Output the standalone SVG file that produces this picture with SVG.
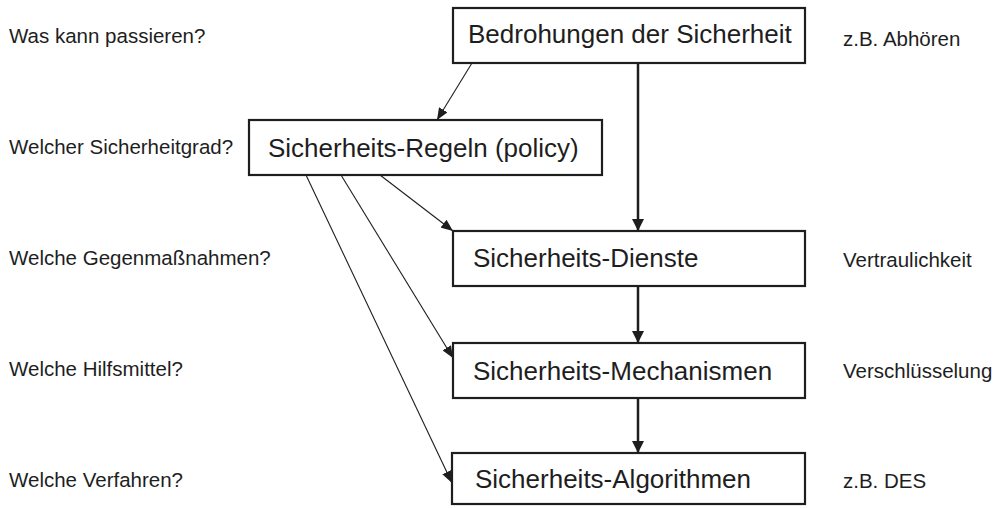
<svg xmlns="http://www.w3.org/2000/svg" width="1000" height="508" viewBox="0 0 1000 508">
  <style>
    .box { fill: #ffffff; stroke: #1e1e1e; stroke-width: 2.2; }
    .btxt { font-family: "Liberation Sans", Arial, sans-serif; font-size: 26px; fill: #1e1e1e; }
    .side { font-family: "Liberation Sans", Arial, sans-serif; font-size: 20.5px; fill: #1e1e1e; }
    .thick { stroke: #1e1e1e; stroke-width: 2.5; fill: none; }
    .thin { stroke: #1e1e1e; stroke-width: 1.1; fill: none; }
  </style>
  <defs>
    <marker id="ah" viewBox="0 0 12 12" refX="12" refY="6" markerWidth="12" markerHeight="12" markerUnits="userSpaceOnUse" orient="auto">
      <path d="M0,0 L12,6 L0,12 z" fill="#1e1e1e"/>
    </marker>
    <marker id="ahs" viewBox="0 0 12 10" refX="12" refY="5" markerWidth="12" markerHeight="10" markerUnits="userSpaceOnUse" orient="auto">
      <path d="M0,0 L12,5 L0,10 z" fill="#1e1e1e"/>
    </marker>
  </defs>
  <rect width="1000" height="508" fill="#ffffff"/>

  <g id="questions">
    <text class="side" x="9" y="43">Was kann passieren?</text>
    <text class="side" x="9" y="154">Welcher Sicherheitgrad?</text>
    <text class="side" x="9" y="265">Welche Gegenmaßnahmen?</text>
    <text class="side" x="9" y="376">Welche Hilfsmittel?</text>
    <text class="side" x="9" y="487">Welche Verfahren?</text>
  </g>

  <g id="examples">
    <text class="side" x="843" y="46">z.B. Abhören</text>
    <text class="side" x="843" y="267">Vertraulichkeit</text>
    <text class="side" x="843" y="378">Verschlüsselung</text>
    <text class="side" x="843" y="488">z.B. DES</text>
  </g>

  <g id="connectors">
    <line class="thick" x1="638" y1="63" x2="638" y2="231" marker-end="url(#ah)"/>
    <line class="thick" x1="638" y1="286" x2="638" y2="343" marker-end="url(#ah)"/>
    <line class="thick" x1="638" y1="398" x2="638" y2="453" marker-end="url(#ah)"/>
    <line class="thin" x1="472" y1="63" x2="437" y2="120" marker-end="url(#ahs)"/>
    <line class="thin" x1="380" y1="175" x2="453" y2="231" marker-end="url(#ahs)"/>
    <line class="thin" x1="341" y1="175" x2="453" y2="358" marker-end="url(#ahs)"/>
    <line class="thin" x1="306" y1="175" x2="452" y2="483" marker-end="url(#ahs)"/>
  </g>

  <g id="bedrohungen">
    <rect class="box" x="453" y="8" width="352" height="55"/>
    <text class="btxt" x="468" y="43">Bedrohungen der Sicherheit</text>
  </g>
  <g id="regeln">
    <rect class="box" x="249" y="120" width="353" height="55"/>
    <text class="btxt" x="268" y="157">Sicherheits-Regeln (policy)</text>
  </g>
  <g id="dienste">
    <rect class="box" x="453" y="231" width="352" height="55"/>
    <text class="btxt" x="473" y="267">Sicherheits-Dienste</text>
  </g>
  <g id="mechanismen">
    <rect class="box" x="453" y="343" width="352" height="55"/>
    <text class="btxt" x="473" y="380">Sicherheits-Mechanismen</text>
  </g>
  <g id="algorithmen">
    <rect class="box" x="452" y="453" width="353" height="51"/>
    <text class="btxt" x="475" y="488">Sicherheits-Algorithmen</text>
  </g>
</svg>
